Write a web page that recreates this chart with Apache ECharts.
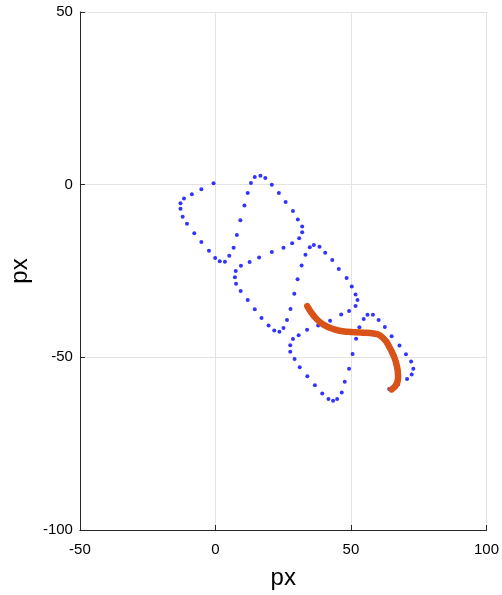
<!DOCTYPE html>
<html>
<head>
<meta charset="utf-8">
<script src="https://cdn.jsdelivr.net/npm/echarts@6/dist/echarts.min.js"></script>
<style>html,body{margin:0;padding:0;background:#fff}#c{width:502px;height:595px}</style>
</head>
<body>
<div id="c"></div>
<script>
var xTicks = [-50, 0, 50, 100];
var yTicks = [-100, -50, 0, 50];
var blueX = [-0.7,-5.2,-8.7,-11.6,-12.9,-12.9,-12.1,-10.5,-7.8,-5.2,-2.4,-0.1,1.6,3.5,5.1,6.7,7.9,9.2,10.7,11.9,13.1,14.5,16.6,18.4,20.8,23.4,25.9,28.6,30.4,32.0,32.0,30.9,28.3,25.1,20.8,16.1,12.6,9.4,7.5,7.2,7.6,9.3,11.9,14.5,17.0,19.6,21.7,23.6,25.1,26.4,27.7,29.1,30.3,31.8,33.2,34.8,36.3,38.4,40.5,43.1,45.5,48.4,50.3,51.7,52.4,51.7,49.3,46.4,42.3,37.9,33.8,30.7,28.6,27.6,27.6,29.2,31.1,33.9,36.7,39.4,41.7,43.4,44.9,46.6,47.7,49.3,50.6,51.9,53.1,54.7,56.1,58.1,60.2,62.5,65.0,67.9,70.3,72.2,73.0,72.4,70.7,67.4,64.1];
var blueY = [0.4,-1.3,-2.8,-4.0,-5.4,-7.0,-9.3,-11.3,-14.1,-16.6,-19.1,-21.2,-22.2,-22.3,-20.6,-18.3,-14.6,-10.3,-6.0,-2.4,0.5,2.2,2.6,1.9,0.0,-2.4,-5.0,-7.6,-10.1,-12.1,-13.8,-15.5,-17.0,-18.3,-19.5,-21.1,-22.4,-23.5,-25.0,-26.8,-28.7,-30.8,-33.4,-36.1,-38.6,-40.8,-42.2,-42.6,-41.5,-39.2,-36.0,-31.6,-27.4,-23.4,-20.3,-18.1,-17.5,-18.0,-19.7,-21.8,-24.4,-27.0,-29.5,-31.8,-33.4,-35.1,-36.6,-37.6,-39.4,-40.8,-42.0,-43.6,-44.7,-46.5,-48.4,-50.5,-52.9,-55.5,-58.1,-60.5,-62.1,-62.6,-62.1,-60.2,-57.1,-53.3,-49.0,-44.6,-41.3,-38.9,-37.7,-37.7,-39.2,-41.2,-43.9,-46.6,-49.1,-51.2,-53.3,-55.0,-56.3,-57.9,-59.2];
var orangeX = [33.9,36.6,39.6,43.8,48.7,53.5,58.4,62.0,64.4,66.5,67.4,66.8,65.0];
var orangeY = [-35.2,-38.3,-40.4,-41.9,-42.6,-42.8,-43.1,-44.5,-47.4,-51.2,-55.6,-57.8,-59.3];

function zip(a, b) { return a.map(function (v, i) { return [v, b[i]]; }); }

var chart = echarts.init(document.getElementById('c'), null, { renderer: 'canvas' });
var font = 'Liberation Sans, Arial, sans-serif';
var axisCommon = {
  type: 'value',
  interval: 50,
  axisLine: { show: true, onZero: false, lineStyle: { color: '#262626', width: 1 } },
  axisTick: { show: true, inside: true, length: 5, lineStyle: { color: '#262626' } },
  axisLabel: { color: '#000', fontSize: 15, fontFamily: font },
  splitLine: { show: true, lineStyle: { color: '#e3e3e3', width: 1 } },
  nameLocation: 'middle',
  nameTextStyle: { color: '#000', fontSize: 24, fontFamily: font }
};
chart.setOption({
  animation: false,
  backgroundColor: '#fff',
  grid: { left: 76, right: 12, top: 12, bottom: 62, containLabel: false },
  xAxis: Object.assign({}, axisCommon, {
    min: xTicks[0], max: xTicks[xTicks.length - 1], name: 'px', nameGap: 36,
    axisLabel: Object.assign({}, axisCommon.axisLabel, { margin: 12 })
  }),
  yAxis: Object.assign({}, axisCommon, {
    min: yTicks[0], max: yTicks[yTicks.length - 1], name: 'px', nameGap: 46,
    axisLabel: Object.assign({}, axisCommon.axisLabel, { margin: 7 })
  }),
  series: [
    {
      type: 'scatter',
      data: zip(blueX, blueY),
      symbol: 'circle',
      symbolSize: 4,
      itemStyle: { color: '#0000ff' },
      z: 2
    },
    {
      type: 'line',
      data: zip(orangeX, orangeY),
      smooth: true,
      showSymbol: false,
      lineStyle: { color: '#d95319', width: 6.5, cap: 'round', join: 'round' },
      z: 3
    }
  ]
});
</script>
</body>
</html>
